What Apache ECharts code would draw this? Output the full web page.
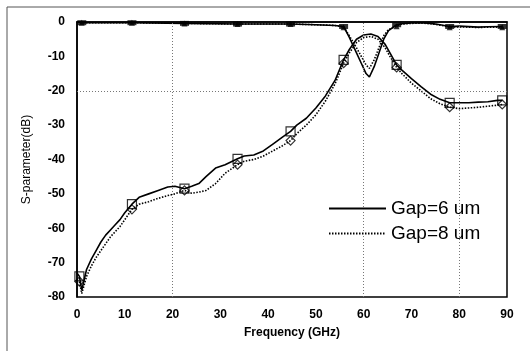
<!DOCTYPE html>
<html>
<head>
<meta charset="utf-8">
<style>
    html, body {
        margin: 0;
        padding: 0;
        background: #fff;
    }

    #main {
        width: 530px;
        height: 351px;
    }
</style>
</head>
<body>
<div id="main"></div>
<script src="https://cdn.jsdelivr.net/npm/echarts@6/dist/echarts.min.js"></script>
<script>
    // 频率 (GHz)
    var freq = [0, 0.5, 1, 2, 3, 4, 5, 6, 7, 8, 9, 10, 11.5, 13, 15, 17, 19, 20.5, 22.5, 24, 25.5, 27, 29, 31,
        33.6, 35, 37, 39, 41, 43, 44.7, 46, 48, 50, 52, 54, 55.8, 57, 58.5, 60, 61.5, 63, 64.5, 65.5, 66.9,
        68, 70, 72, 74, 76, 78, 80, 82, 84, 86, 88, 89];

    // S21, Gap=6 um
    var s21Gap6 = [-73, -74, -78, -72, -69, -66.5, -64, -62, -60.5, -59, -57.5, -55.5, -53, -51, -50, -49, -48,
        -47.8, -48.5, -47.8, -47, -45, -42.5, -41.5, -39.8, -39, -38.7, -37.5, -35.5, -33.5, -31.8, -30, -28,
        -25, -21.5, -17, -11, -8, -5, -3.8, -3.5, -4.2, -6.5, -9, -12.5, -14, -16.5, -18.8, -21, -22.5, -23.5,
        -23.5, -23.5, -23.3, -23.2, -22.8, -22.8];

    // S21, Gap=8 um
    var s21Gap8 = [-75, -75.5, -79, -74, -71, -68.5, -66.5, -64.5, -62.5, -61, -59.5, -57.5, -54.5, -53, -52.3,
        -51.3, -50.5, -50, -49, -49.8, -49.5, -49, -47, -44, -41.5, -40.5, -40, -39, -37.5, -36, -34.5, -32.5,
        -30, -27, -23, -18, -12, -9, -6, -4.5, -4.2, -5, -7.5, -10, -13.2, -15, -17.8, -20, -22.3, -23.8, -24.8,
        -25.2, -25, -24.8, -24.5, -24.2, -24];

    // S11 频率点
    var freqS11 = [0, 1, 11.5, 22.5, 33.6, 44.7, 50, 54, 55.8, 57, 58.5, 59.5, 60.5, 61.2, 62.2, 63.2, 64.2,
        65.2, 66.9, 68, 70, 72, 74, 76, 78, 80, 84, 86, 89];

    // S11, Gap=6 um
    var s11Gap6 = [0, -0.2, -0.2, -0.4, -0.6, -0.6, -0.8, -1, -1.3, -4.5, -9, -12, -15, -16, -13, -9, -5,
        -2.5, -0.8, -0.5, -0.3, -0.2, -0.4, -0.8, -1.3, -1.2, -1.5, -1.4, -1.3];

    // S11, Gap=8 um
    var s11Gap8 = [0, -0.2, -0.2, -0.4, -0.6, -0.6, -0.8, -1, -1.5, -4, -7.5, -10, -12.5, -13.5, -11, -7.5,
        -4, -2.2, -1.2, -0.6, -0.4, -0.3, -0.5, -0.9, -1.5, -1.4, -1.6, -1.5, -1.5];

    // 标记点所在频率
    var markerFreq = [0.5, 11.5, 22.5, 33.6, 44.7, 55.8, 66.9, 78, 89];
    var markerFreqS11 = [1, 11.5, 22.5, 33.6, 44.7, 55.8, 66.9, 78, 89];

    // 网格线
    var gridX = [20, 60, 80];
    var gridY = [-20];

    var legendNames = ['Gap=6 um', 'Gap=8 um'];

    function pairs(xs, ys) {
        return xs.map(function (x, i) {
            return [x, ys[i]];
        });
    }

    function pick(xs, ys, keep) {
        var out = [];
        xs.forEach(function (x, i) {
            if (keep.indexOf(x) > -1) out.push([x, ys[i]]);
        });
        return out;
    }

    var fontFamily = '"Liberation Sans", Arial, sans-serif';

    var myChart = echarts.init(document.getElementById('main'));

    var option = {
        animation: false,
        backgroundColor: '#fff',
        textStyle: {fontFamily: fontFamily},
        graphic: [{
            type: 'rect',
            shape: {x: 7, y: 7, width: 600, height: 400},
            style: {fill: 'none', stroke: '#555', lineWidth: 1},
            silent: true
        }],
        grid: {
            left: 77,
            right: 23,
            top: 22,
            bottom: 54,
            show: true,
            borderColor: '#000',
            borderWidth: 1.5
        },
        legend: {
            data: legendNames,
            orient: 'vertical',
            left: 328,
            top: 199,
            padding: 0,
            itemWidth: 57,
            itemHeight: 20,
            itemGap: 6,
            itemStyle: {opacity: 0},
            textStyle: {fontSize: 19, color: '#000', fontFamily: fontFamily},
            selectedMode: false
        },
        xAxis: {
            type: 'value',
            min: 0,
            max: 90,
            interval: 10,
            name: 'Frequency (GHz)',
            nameLocation: 'middle',
            nameGap: 30,
            nameTextStyle: {fontSize: 12, fontWeight: 'bold', color: '#000'},
            axisLine: {lineStyle: {color: '#000', width: 1.5}},
            axisTick: {show: false},
            splitLine: {show: false},
            axisLabel: {fontSize: 12, fontWeight: 'bold', color: '#000', margin: 12}
        },
        yAxis: {
            type: 'value',
            min: -80,
            max: 0,
            interval: 10,
            name: 'S-parameter(dB)',
            nameLocation: 'middle',
            nameGap: 44,
            nameTextStyle: {fontSize: 12, color: '#000'},
            axisLine: {lineStyle: {color: '#000', width: 1.5}},
            axisTick: {show: false},
            splitLine: {show: false},
            axisLabel: {fontSize: 12, fontWeight: 'bold', color: '#000', margin: 12}
        },
        series: [
            {
                name: 'Gap=6 um',
                type: 'line',
                symbol: 'none',
                data: pairs(freq, s21Gap6),
                lineStyle: {color: '#000', width: 1.6},
                itemStyle: {color: '#000'},
                z: 3,
                markLine: {
                    silent: true,
                    symbol: 'none',
                    label: {show: false},
                    lineStyle: {color: '#777', width: 1, type: [1, 2]},
                    data: gridX.map(function (v) {
                        return {xAxis: v};
                    }).concat(gridY.map(function (v) {
                        return {yAxis: v};
                    }))
                }
            },
            {
                name: 'Gap=8 um',
                type: 'line',
                symbol: 'none',
                data: pairs(freq, s21Gap8),
                lineStyle: {color: '#000', width: 1.6, type: [1.5, 1.5]},
                itemStyle: {color: '#000'},
                z: 3
            },
            {
                name: 'Gap=6 um',
                type: 'line',
                symbol: 'none',
                data: pairs(freqS11, s11Gap6),
                lineStyle: {color: '#000', width: 1.6},
                z: 3
            },
            {
                name: 'Gap=8 um',
                type: 'line',
                symbol: 'none',
                data: pairs(freqS11, s11Gap8),
                lineStyle: {color: '#000', width: 1.6, type: [1.5, 1.5]},
                z: 3
            },
            // 标记
            {
                name: 's21-6-mark',
                type: 'scatter',
                symbol: 'rect',
                symbolSize: 9,
                data: pick(freq, s21Gap6, markerFreq),
                itemStyle: {color: 'rgba(0,0,0,0)', borderColor: '#000', borderWidth: 1.2},
                z: 4
            },
            {
                name: 's21-8-mark',
                type: 'scatter',
                symbol: 'diamond',
                symbolSize: 9,
                data: pick(freq, s21Gap8, markerFreq),
                itemStyle: {color: 'rgba(0,0,0,0)', borderColor: '#000', borderWidth: 1.2},
                z: 4
            },
            {
                name: 's11-8-mark',
                type: 'scatter',
                symbol: 'triangle',
                symbolSize: 6,
                data: pick(freqS11, s11Gap8, markerFreqS11),
                itemStyle: {color: '#000'},
                z: 4
            },
            {
                name: 's11-6-mark',
                type: 'scatter',
                symbol: 'rect',
                symbolSize: [9, 5],
                data: pick(freqS11, s11Gap6, markerFreqS11),
                itemStyle: {color: '#000'},
                z: 4
            }
        ]
    };

    myChart.setOption(option);
</script>
</body>
</html>
